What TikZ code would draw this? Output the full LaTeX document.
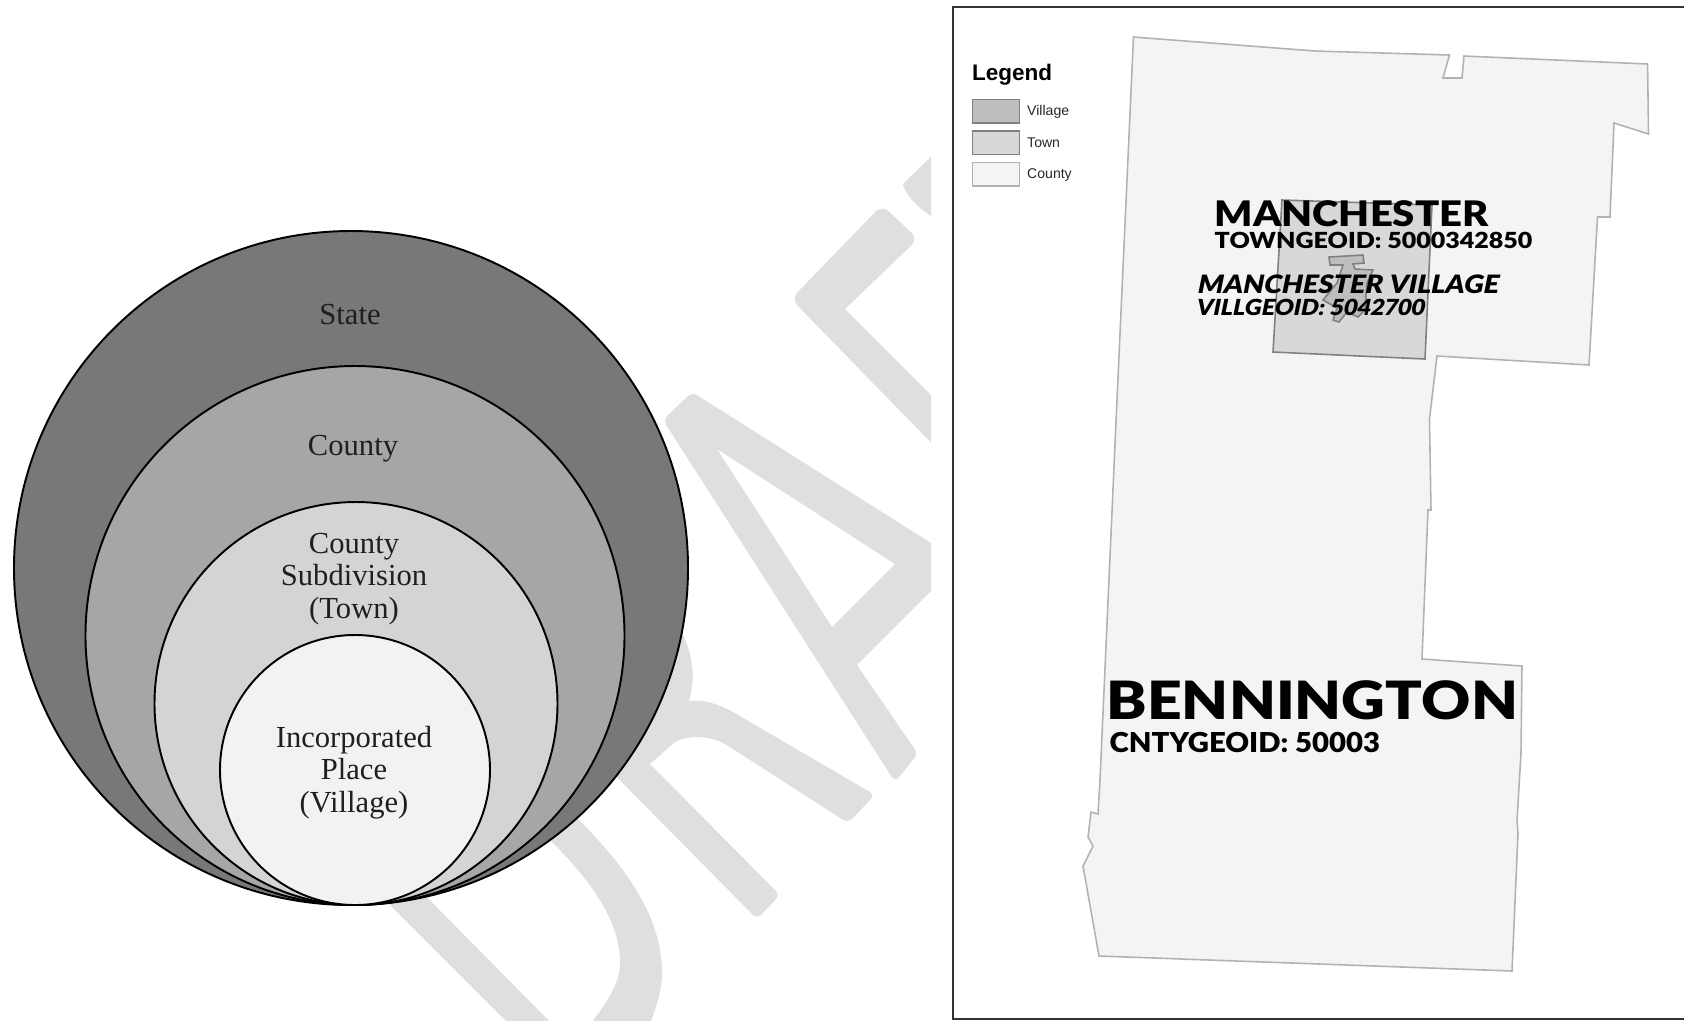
\documentclass[tikz,border=0pt]{standalone}
\usepackage{fontspec}
\setmainfont{Liberation Serif}
\newfontfamily\arialfont{Liberation Sans}
\newfontfamily\gillfont{Lato Black}
\usetikzlibrary{positioning}
\definecolor{wmarkgray}{HTML}{DFDFDF}
\definecolor{statefill}{HTML}{787878}
\definecolor{countyfill}{HTML}{A6A6A6}
\definecolor{townfill}{HTML}{D4D4D4}
\definecolor{placefill}{HTML}{F2F2F2}
\definecolor{mapcounty}{HTML}{F4F4F4}
\definecolor{maptown}{HTML}{D8D8D8}
\definecolor{mapvillage}{HTML}{BEBEBE}
\newcommand{\widename}[2]{\scalebox{#1}[1]{#2}}
\tikzset{
	ring/.style={draw=black, line width=0.55pt},
	ringtext/.style={inner sep=0, align=center, text=black!88, font=\fontsize{8.7}{9.2}\selectfont},
	wmark/.style={fill=wmarkgray},
	keybox/.style={line width=0.45pt, minimum width=0.47cm, minimum height=0.235cm, inner sep=0, anchor=north west},
	keytext/.style={inner sep=0, anchor=west, font=\arialfont\fontsize{4}{4}\selectfont, text=black!85},
	maptitle/.style={inner sep=0, anchor=base west, font=\gillfont\fontsize{#1}{#1}\selectfont},
	maptitleit/.style={inner sep=0, anchor=base west, font=\gillfont\fontsize{#1}{#1}\selectfont, xslant=0.2},
}
\begin{document}
\begin{tikzpicture}[x=0.01cm, y=-0.01cm]
		\useasboundingbox (0,0) rectangle (1684,1020);
		% watermark
		\begin{scope}
			\clip (0,0) rectangle (931,1020);
			\fill[wmark] (530,820) -- (575,816) .. controls (630,870) and (662,920) .. (662,973) .. controls (662,990) and (656,1008) .. (648,1030) -- (586,1030) .. controls (605,1005) and (620,985) .. (620,963) .. controls (620,920) and (590,880) .. (552,842) -- cycle;
			\fill[wmark] (360,875) -- (515,1030) -- (558,1030) -- (400,870) -- cycle;
			\fill[wmark] (660,600) .. controls (685,630) and (700,665) .. (689,701) .. controls (705,699) and (720,705) .. (733,712) [rounded corners=.06cm] -- (875,795) -- (848,823) -- (730,747) [sharp corners] .. controls (715,738) and (692,733) .. (675,742) -- (650,764) [rounded corners=.06cm] -- (780,895) -- (757,919) -- (590,750) -- cycle;
			\fill[wmark, even odd rule] [rounded corners=.06cm] (950,555) -- (692,392) -- (663,420) -- (895,782) -- (918,754) [sharp corners] -- (857,665) -- (950,572) -- cycle
				(717,449) -- (895,564) -- (832,627) -- cycle;
			\fill[wmark] [rounded corners=.09cm] (950,462) -- (791,299) -- (882,205) -- (918,239) [sharp corners] -- (845,309) -- (950,414) -- cycle;
			\fill[wmark] (945,143) -- (903,184) .. controls (905,195) and (920,212) .. (945,224) -- cycle;
		\end{scope}
		% nested areas
		\draw[ring, fill=statefill] (351,568) circle [radius=337];
		\draw[ring, fill=countyfill] (355,635.5) circle [radius=269.5];
		\draw[ring, fill=townfill] (356,703.5) circle [radius=201.5];
		\draw[ring, fill=placefill] (355,770) circle [radius=135];
		\node[ringtext] (state) at (350,315) {State};
		\node[ringtext] (county) at (353,448.5) {County};
		\node[ringtext] (town) at (354,579) {County\\Subdivision\\(Town)};
		\node[ringtext] (village) at (354,772.5) {Incorporated\\Place\\(Village)};
		% map frame
		\draw[line width=0.45pt, black!80] (1684,7) -- (953,7) -- (953,1019) -- (1684,1019);
		% map areas
		\draw[fill=mapcounty, draw=black!30, line width=0.45pt] (1133.5,37) -- (1315,51) -- (1449.5,55) -- (1443,78) -- (1462,78) -- (1464,56) -- (1647.6,64) -- (1648.5,134) -- (1614,123) -- (1610,217) -- (1597.5,217) -- (1589,365) -- (1437,356) -- (1429.5,419) -- (1431,510) -- (1428,510) -- (1422,659) -- (1522,666) -- (1521,753) -- (1517,820) -- (1518,833) -- (1512,971) -- (1099,956) -- (1083,866) -- (1093,846) -- (1088,837) -- (1091,812) -- (1098,814) -- (1100,780) -- (1117,400) -- cycle;
		\draw[fill=maptown, draw=black!50, line width=0.45pt] (1282,200) -- (1432,205) -- (1425,359) -- (1273,352) -- cycle;
		\draw[fill=mapvillage, draw=black!50, line width=0.45pt] (1329,257) -- (1363,255) -- (1364,263) -- (1353,264) -- (1355,269) -- (1373,270) -- (1367,283) -- (1365,310) -- (1358,317) -- (1347,312) -- (1339,322) -- (1333,320) -- (1337,308) -- (1323,300) -- (1337,283) -- (1343,265) -- (1330,265) -- cycle;
		% legend
		\node[inner sep=0, anchor=base west, font=\arialfont\bfseries\fontsize{6.4}{6.4}\selectfont] (legend) at (971.5,80) {Legend};
		\node[keybox, draw=black!50, fill=mapvillage] (keyvillage) at (971.5,98.7) {};
		\node[keybox, draw=black!50, fill=maptown] (keytown) at (971.5,130) {};
		\node[keybox, draw=black!30, fill=mapcounty] (keycounty) at (971.5,161.7) {};
		\node[keytext] (labelvillage) at (1026.5,111.7) {Village};
		\node[keytext] (labeltown) at (1026.5,142.5) {Town};
		\node[keytext] (labelcounty) at (1026.5,175) {County};
		% map labels
		\node[maptitle=10] (manchester) at (1214,226) {\widename{1.138}{MANCHESTER}};
		\node[maptitle=6.3] (towngeoid) at (1214,248.5) {\widename{1.13}{TOWNGEOID: 5000342850}};
		\node[maptitleit=7.2] (manvillage) at (1196,293.5) {\widename{1.068}{MANCHESTER VILLAGE}};
		\node[maptitleit=6.3] (villgeoid) at (1195,315) {\widename{1.054}{VILLGEOID: 5042700}};
		\node[maptitle=15] (bennington) at (1106,719) {\widename{1.148}{BENNINGTON}};
		\node[maptitle=7.8] (cntygeoid) at (1109,752.5) {\widename{1.068}{CNTYGEOID: 50003}};
	\end{tikzpicture}
\end{document}
